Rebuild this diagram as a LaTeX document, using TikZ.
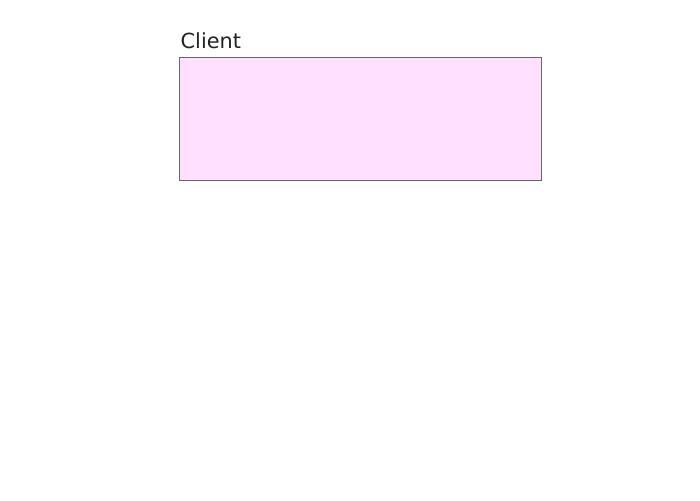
\documentclass[tikz,border=0pt]{standalone}
\usepackage{fontspec}
\setmainfont{DejaVu Sans}
\definecolor{clientfill}{RGB}{255,224,255}
\definecolor{clientline}{RGB}{102,102,102}
\definecolor{labeltext}{RGB}{34,34,34}

\begin{document}
\begin{tikzpicture}[x=1pt,y=1pt,
    box/.style={draw=clientline, fill=clientfill, line width=.8pt, inner sep=0, minimum width=362pt, minimum height=123pt},
    title/.style={anchor=base west, inner sep=0, text=labeltext, font=\fontsize{20.8}{25}\selectfont}]

\useasboundingbox (0,0) rectangle (700,-500);

\node [box] (client) at (360,-118.5) {};
\node [title] (clientlabel) at (180.5,-48.5) {Client};

\end{tikzpicture}
\end{document}
